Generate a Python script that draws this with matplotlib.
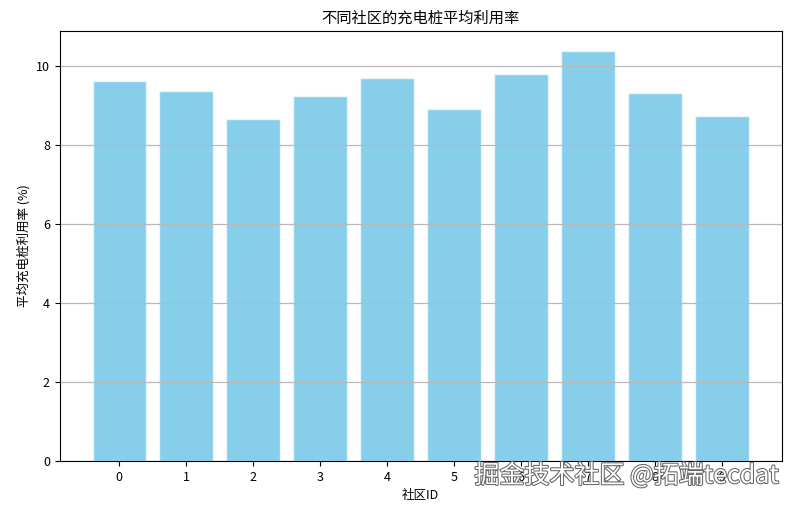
import numpy as np
import matplotlib.pyplot as plt
import matplotlib.patheffects as pe

plt.rcParams['font.family'] = ['Noto Sans CJK SC', 'DejaVu Sans']
plt.rcParams['axes.unicode_minus'] = False

# 数据
community_ids = np.arange(10)
avg_utilization = [9.62, 9.37, 8.66, 9.23, 9.69, 8.90, 9.80, 10.37, 9.32, 8.72]

fig, ax = plt.subplots(figsize=(7.96, 5.05), dpi=100)
fig.subplots_adjust(left=0.075, right=0.982, top=0.939, bottom=0.087)

ax.bar(community_ids, avg_utilization, color='skyblue', edgecolor='#e8f6fb', linewidth=1)
ax.set_title('不同社区的充电桩平均利用率', fontsize=11)
ax.set_xlabel('社区ID', fontsize=9)
ax.set_ylabel('平均充电桩利用率 (%)', fontsize=9)
ax.set_xticks(community_ids)
ax.tick_params(labelsize=9)
ax.grid(axis='y', color='#b8b8b8', linewidth=0.9)

# 水印
fig.text(0.978, 0.058, '掘金技术社区 @拓端tecdat', ha='right', va='center',
         fontsize=18, color='white',
         path_effects=[pe.withStroke(linewidth=1.5, foreground='#666666')])

plt.savefig('out.png', dpi=100)
